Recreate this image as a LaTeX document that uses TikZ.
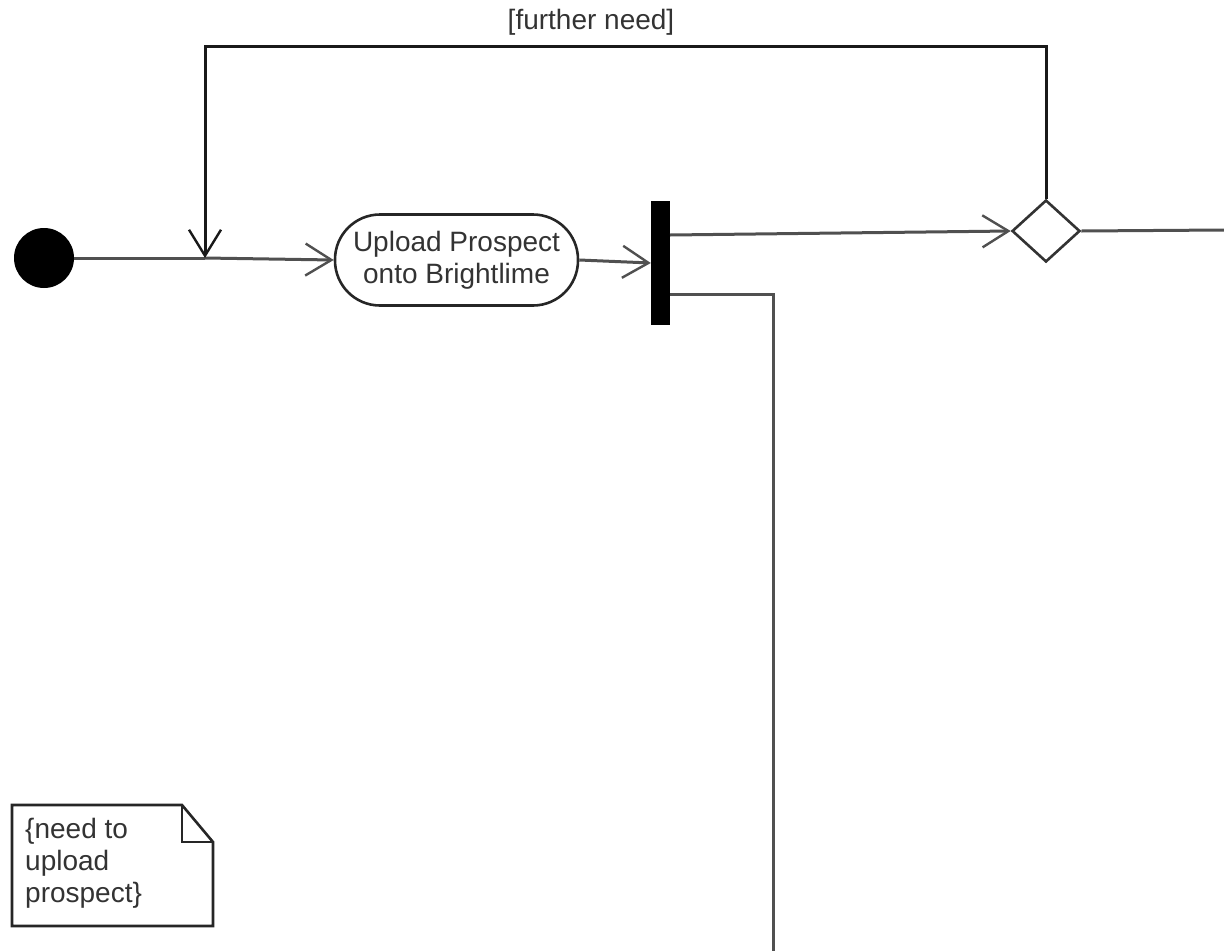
\documentclass[tikz,border=0pt]{standalone}
\usepackage{fontspec}
\setmainfont{Liberation Sans}
\usetikzlibrary{arrows.meta,shapes.geometric,calc}
\definecolor{ln}{HTML}{505050}
\tikzset{
  flow/.style={draw=ln,line width=3pt},
  tip/.style={-{Straight Barb[length=26pt,width=32pt,line width=2.4pt]}},
  txt/.style={font=\fontsize{28}{32}\selectfont,text=black!80},
  actbox/.style={draw=black!85,line width=2.6pt,rounded corners=45pt,minimum width=243pt,minimum height=91pt,align=center,inner sep=0pt},
  decbox/.style={diamond,draw=black!80,line width=2.6pt,minimum width=68pt,minimum height=62pt,inner sep=0pt},
}
\begin{document}
\begin{tikzpicture}[x=1pt,y=-1pt]
\useasboundingbox (0,0) rectangle (1224,951);
% initial node
\node[circle,fill=black,minimum size=60pt,inner sep=0pt] (init) at (44,258) {};
\coordinate (m) at (205,258);
% action
\node[actbox,txt] (act) at (456.5,260) {Upload Prospect\\onto Brightlime};
% fork bar
\node[fill=black,minimum width=19pt,minimum height=124pt,inner sep=0pt] (bar) at (660.5,263) {};
% decision
\node[decbox] (dec) at (1046,231) {};
% helper coordinates
\coordinate (top) at (1046,46);
\coordinate (b1) at (670,235);
\coordinate (b2) at (670,294);
\coordinate (bend) at (773,294);
\coordinate (bottom) at (773,951);
\coordinate (out) at (1224,230);
% connectors
\draw[flow] (init.east) -- (m);
\draw[flow,tip] (m) -- (act.west);
\draw[flow,tip] (act.east) -- (bar.west);
\draw[flow,tip] (b1) -- (dec.west);
\draw[flow] (dec.east) -- (out);
\draw[flow] (b2) -- (bend) -- (bottom);
\draw[flow,draw=black!90,tip] (dec.north) -- (top) -| (m);
\node[txt,anchor=center] (guard) at (591,22) {[further need]};
% note
\draw[draw=black!85,line width=2.6pt,fill=white] (12,805) -- (182,805) -- (213,842) -- (213,926) -- (12,926) -- cycle;
\draw[draw=black!85,line width=2.6pt] (182,805) -- (182,842) -- (213,842);
\node[txt,anchor=north west,align=left,inner sep=0pt] (note) at (25,818) {\{need to\\upload\\prospect\}};
\end{tikzpicture}
\end{document}
